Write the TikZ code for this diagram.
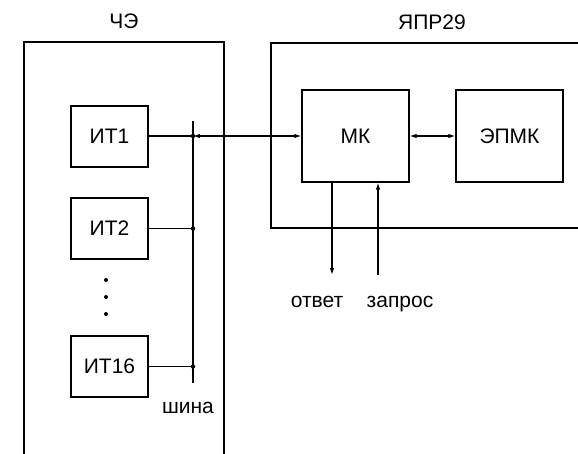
\documentclass[tikz,border=0pt]{standalone}
\usepackage{fontspec}
\setmainfont{Liberation Sans}
\usetikzlibrary{arrows.meta}
\tikzset{
  blk/.style={draw, line width=1.2pt, minimum width=77pt, minimum height=61pt, inner sep=0pt, font=\fontsize{21}{25}\selectfont},
  bigblk/.style={draw, line width=1.2pt, minimum width=107pt, minimum height=92pt, inner sep=0pt, font=\fontsize{21}{25}\selectfont},
  lbl/.style={inner sep=0pt, anchor=base, font=\fontsize{21}{25}\selectfont},
  wire/.style={line width=1.2pt},
  tip/.style={-{Latex[length=7pt,width=4.5pt]}},
  tips/.style={{Latex[length=7pt,width=4.5pt]}-{Latex[length=7pt,width=4.5pt]}},
  frame/.style={line width=1.2pt},
  jdot/.style={circle, fill, inner sep=0pt, minimum size=4.5pt},
}
\begin{document}
\begin{tikzpicture}[x=1pt,y=-1pt]
\useasboundingbox (0,0) rectangle (578,454);
% outer frames
\draw[frame] (24,454) -- (24,42) -- (224,42) -- (224,454);
\draw[frame] (578,43) -- (271,43) -- (271,228) -- (578,228);
\node[lbl] (tche) at (124,29) {ЧЭ};
\node[lbl] (tyapr) at (432,30) {ЯПР29};
% blocks
\node[blk] (it1) at (109.5,136.5) {ИТ1};
\node[blk] (it2) at (109.5,228.5) {ИТ2};
\node[blk] (it16) at (109.5,366.5) {ИТ16};
\node[bigblk] (mk) at (355.5,136) {МК};
\node[bigblk] (epmk) at (509.5,136) {ЭПМК};
% bus
\coordinate (bustop) at (193,121);
\coordinate (busbot) at (193,383);
\draw[wire] (bustop) -- (busbot);
\coordinate (b1) at (193,136);
\coordinate (b2) at (193,228.5);
\coordinate (b16) at (193,366.5);
\node[jdot] (d1) at (b1) {};
\node[jdot] (d2) at (b2) {};
\node[jdot] (d16) at (b16) {};
\node[lbl] (tbus) at (188,413) {шина};
% ellipsis dots
\node[jdot, minimum size=4pt] (e1) at (106,280) {};
\node[jdot, minimum size=4pt] (e2) at (106,297) {};
\node[jdot, minimum size=4pt] (e3) at (106,314) {};
% connectors
\draw[wire] (it1.east |- b1) -- (b1);
\draw[wire] (it2.east) -- (b2);
\draw[wire] (it16.east) -- (b16);
\draw[wire, tips] (b1) -- (mk.west |- b1);
\draw[wire, tips] (mk.east) -- (epmk.west);
\coordinate (otv) at (332,275);
\coordinate (zap) at (378,275);
\draw[wire, tip] (mk.south -| otv) -- (otv);
\draw[wire, tip] (zap) -- (mk.south -| zap);
\node[lbl] (totv) at (317,307) {ответ};
\node[lbl] (tzap) at (400,307) {запрос};
\end{tikzpicture}
\end{document}
